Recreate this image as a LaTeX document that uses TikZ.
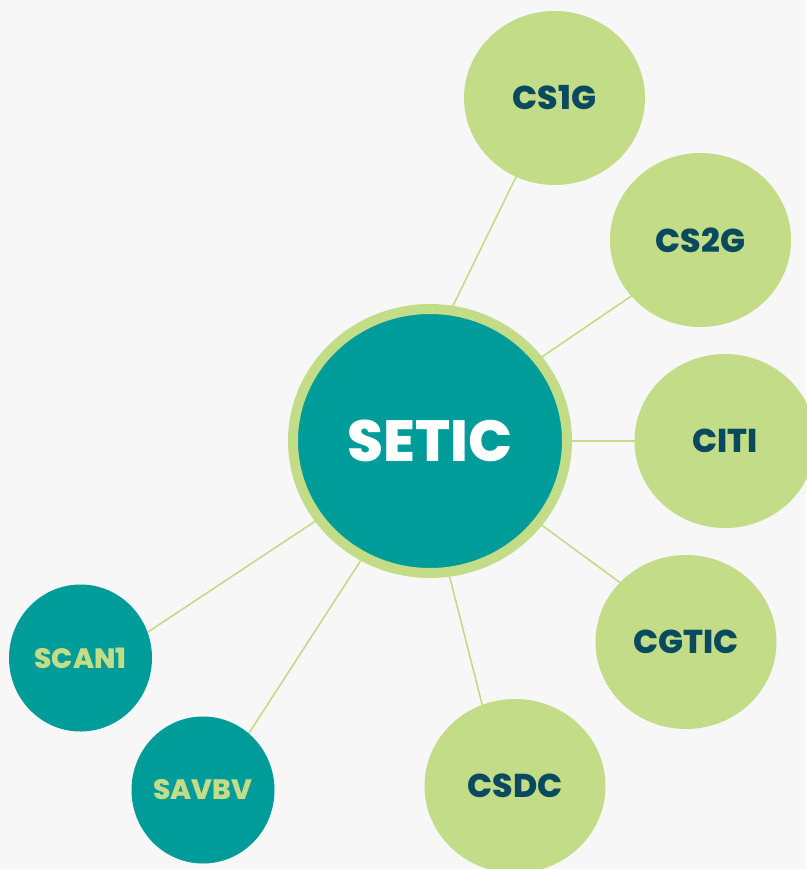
\documentclass[tikz,border=0pt]{standalone}
\usepackage{fontspec}
\newfontfamily\popfont{Poppins}[BoldFont={Poppins ExtraBold}]
\usetikzlibrary{shapes.geometric}
\definecolor{bgcol}{HTML}{F7F7F7}
\definecolor{lime}{HTML}{C2DC88}
\definecolor{teal}{HTML}{009C99}
\definecolor{navy}{HTML}{0A4A5F}
\pgfdeclarelayer{bg}
\pgfdeclarelayer{edges}
\pgfsetlayers{bg,edges,main}
\tikzset{
  hub/.style={ellipse, inner sep=0pt, outer sep=0pt, fill=teal, draw=lime,
    line width=10pt, minimum width=274pt, minimum height=264pt,
    text=white, font=\popfont\bfseries\fontsize{58}{62}\selectfont},
  unit/.style={ellipse, inner sep=0pt, outer sep=0pt, fill=lime,
    minimum width=181pt, minimum height=174pt,
    text=navy, font=\popfont\bfseries\fontsize{33}{37}\selectfont},
  service/.style={ellipse, inner sep=0pt, outer sep=0pt, fill=teal,
    minimum width=143pt, minimum height=147pt,
    text=lime, font=\popfont\bfseries\fontsize{28}{32}\selectfont},
  link/.style={draw=lime, line width=1.6pt}
}
\begin{document}
\begin{tikzpicture}[x=1pt,y=-1pt]
  \begin{pgfonlayer}{bg}
    \fill[bgcol] (0,0) rectangle (806,869);
  \end{pgfonlayer}
  \useasboundingbox (0,0) rectangle (806,869);

  % central hub
  \node[hub] (setic) at (430,441) {SETIC};

  % green units
  \node[unit] (cs1g)  at (554.5,98)  {CS1G};
  \node[unit] (cs2g)  at (700.5,240) {CS2G};
  \node[unit] (citi)  at (725,441)   {CITI};
  \node[unit] (cgtic) at (686,642)   {CGTIC};
  \node[unit] (csdc)  at (515,786)   {CSDC};

  % teal services
  \node[service] (scan1) at (80.5,658) {SCAN1};
  \node[service] (savbv) at (203,790)  {SAVBV};

  % connectors
  \begin{pgfonlayer}{edges}
    \draw[link] (setic.81)  -- (cs1g.244.6);
    \draw[link] (setic.37.5) -- (cs2g.219.3);
    \draw[link] (setic.0)   -- (citi.180);
    \draw[link] (setic.-37.5) -- (cgtic.138.2);
    \draw[link] (setic.-82) -- (csdc.112);
    \draw[link] (setic.240.7) -- (savbv.51.7);
    \draw[link] (setic.215.5) -- (scan1.21.8);
  \end{pgfonlayer}
\end{tikzpicture}
\end{document}
